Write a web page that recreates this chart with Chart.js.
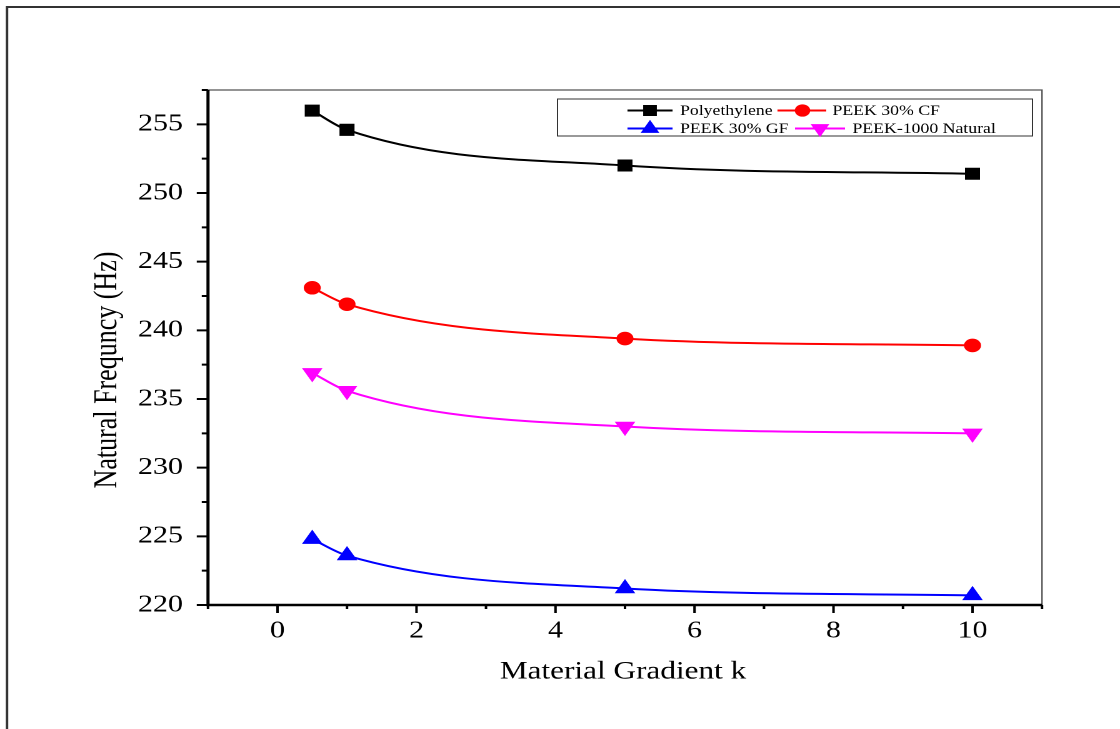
<!DOCTYPE html>
<html>
<head>
<meta charset="utf-8">
<script src="https://cdn.jsdelivr.net/npm/chart.js@4/dist/chart.umd.min.js"></script>
<style>
  html, body { margin: 0; padding: 0; background: #fff; overflow: hidden; }
  /* the original figure is stretched sideways, so draw narrow and widen with css */
  #wrap { width: 896px; height: 729px; transform: scaleX(1.25); transform-origin: 0 0; }
</style>
</head>
<body>
<div id="wrap"><canvas id="chart" width="896" height="729"></canvas></div>
<script>
const gradientK = [0.5, 1, 5, 10];
const polyethylene = [256.0, 254.6, 252.0, 251.4];
const peekCF = [243.1, 241.9, 239.4, 238.9];
const peekGF = [224.8, 223.6, 221.2, 220.7];
const peekNatural = [236.9, 235.6, 233.0, 232.5];

const seriesNames = ['Polyethylene', 'PEEK 30% CF', 'PEEK 30% GF', 'PEEK-1000 Natural'];
const xTickLabels = [0, 2, 4, 6, 8, 10];
const yTickLabels = [220, 225, 230, 235, 240, 245, 250, 255];

const xTitle = 'Material Gradient k';
const yTitle = 'Natural Frequncy (Hz)';
const serif = "'Liberation Serif', 'Times New Roman', serif";

function pts(ys) {
  return gradientK.map((x, i) => ({ x: x, y: ys[i] }));
}

function makeSet(label, ys, color, style, radius, rotation) {
  return {
    label: label,
    data: pts(ys),
    borderColor: color,
    backgroundColor: color,
    borderWidth: 2,
    cubicInterpolationMode: 'monotone',
    pointStyle: style,
    pointRadius: radius,
    pointHoverRadius: radius,
    pointRotation: rotation || 0,
    pointBorderWidth: 1,
    pointBorderColor: color,
    pointBackgroundColor: color
  };
}

const datasets = [
  makeSet(seriesNames[0], polyethylene, '#000000', 'rect', 7.8),
  makeSet(seriesNames[1], peekCF, '#ff0000', 'circle', 6.3),
  makeSet(seriesNames[2], peekGF, '#0000ff', 'triangle', 8.5),
  makeSet(seriesNames[3], peekNatural, '#ff00ff', 'triangle', 8.5, 180)
];

// legend placement (inside the plot, top right)
const legendBox = { left: 446, top: 99, right: 826, bottom: 136 };
const legendItems = [
  { ds: 0, x0: 502, x1: 538, mx: 520, tx: 544, y: 110.5 },
  { ds: 1, x0: 622, x1: 661, mx: 642, tx: 666, y: 110.5 },
  { ds: 2, x0: 502, x1: 538, mx: 520, tx: 544, y: 128.5 },
  { ds: 3, x0: 636, x1: 676, mx: 656, tx: 682, y: 128.5 }
];

const framePlugin = {
  id: 'frame',
  beforeDraw(chart) {
    const ctx = chart.ctx;
    ctx.save();
    ctx.fillStyle = '#fff';
    ctx.fillRect(0, 0, chart.width, chart.height);
    // outer figure frame (left and top edges show)
    ctx.strokeStyle = '#333';
    ctx.lineWidth = 2;
    ctx.beginPath();
    ctx.moveTo(5.6, chart.height);
    ctx.lineTo(5.6, 7);
    ctx.lineTo(chart.width, 7);
    ctx.stroke();
    ctx.restore();
  },
  afterDraw(chart) {
    const ctx = chart.ctx;
    const a = chart.chartArea;
    const xs = chart.scales.x, ys = chart.scales.y;
    ctx.save();
    // thin top and right border
    ctx.strokeStyle = '#555';
    ctx.lineWidth = 1.2;
    ctx.beginPath();
    ctx.moveTo(a.left, a.top);
    ctx.lineTo(a.right, a.top);
    ctx.lineTo(a.right, a.bottom);
    ctx.stroke();
    // thick left and bottom axes
    ctx.strokeStyle = '#000';
    ctx.lineWidth = 2.5;
    ctx.beginPath();
    ctx.moveTo(a.left, a.top);
    ctx.lineTo(a.left, a.bottom);
    ctx.lineTo(a.right, a.bottom);
    ctx.stroke();
    // ticks, longer at labelled values
    ctx.lineWidth = 2;
    ctx.beginPath();
    xs.ticks.forEach(t => {
      const px = xs.getPixelForValue(t.value);
      const len = xTickLabels.includes(t.value) ? 8 : 4;
      ctx.moveTo(px, a.bottom);
      ctx.lineTo(px, a.bottom + len);
    });
    ys.ticks.forEach(t => {
      const py = ys.getPixelForValue(t.value);
      const len = yTickLabels.includes(t.value) ? 9 : 5;
      ctx.moveTo(a.left, py);
      ctx.lineTo(a.left - len, py);
    });
    ctx.stroke();

    // axis titles
    ctx.fillStyle = '#000';
    ctx.textAlign = 'center';
    ctx.textBaseline = 'middle';
    ctx.font = '25px ' + serif;
    ctx.fillText(xTitle, 498.4, 672);
    ctx.save();
    ctx.translate(86, 370);
    ctx.rotate(-Math.PI / 2);
    ctx.font = '26px ' + serif;
    ctx.fillText(yTitle, 0, 0);
    ctx.restore();

    // legend
    ctx.strokeStyle = '#333';
    ctx.lineWidth = 1;
    ctx.strokeRect(legendBox.left, legendBox.top, legendBox.right - legendBox.left, legendBox.bottom - legendBox.top);
    ctx.font = '14.2px ' + serif;
    ctx.textAlign = 'left';
    legendItems.forEach(it => {
      const ds = chart.data.datasets[it.ds];
      ctx.strokeStyle = ds.borderColor;
      ctx.lineWidth = 2;
      ctx.beginPath();
      ctx.moveTo(it.x0, it.y);
      ctx.lineTo(it.x1, it.y);
      ctx.stroke();
      ctx.fillStyle = ds.backgroundColor;
      ctx.strokeStyle = ds.borderColor;
      ctx.lineWidth = 1;
      Chart.helpers.drawPoint(ctx, {
        pointStyle: ds.pointStyle,
        rotation: ds.pointRotation,
        radius: ds.pointRadius * 0.9,
        borderWidth: 1
      }, it.mx, it.y);
      ctx.fillStyle = '#000';
      ctx.fillText(ds.label, it.tx, it.y + 1);
    });
    ctx.restore();
  }
};

new Chart(document.getElementById('chart'), {
  type: 'line',
  data: { datasets: datasets },
  options: {
    responsive: false,
    animation: false,
    devicePixelRatio: 2,
    layout: { padding: { top: 90, right: 62.4, left: 0, bottom: 0 } },
    plugins: {
      legend: { display: false },
      tooltip: { enabled: false }
    },
    scales: {
      x: {
        type: 'linear',
        min: -1,
        max: 11,
        grid: { display: false, drawTicks: false, tickLength: 0 },
        border: { display: false },
        ticks: {
          stepSize: 1,
          padding: 12,
          color: '#000',
          font: { family: serif, size: 24 },
          maxRotation: 0,
          autoSkip: false,
          callback: v => xTickLabels.includes(v) ? String(v) : ''
        },
        afterFit(s) { s.height = 124; }
      },
      y: {
        type: 'linear',
        min: 220,
        max: 257.5,
        grid: { display: false, drawTicks: false, tickLength: 0 },
        border: { display: false },
        ticks: {
          stepSize: 2.5,
          padding: 20,
          color: '#000',
          font: { family: serif, size: 24 },
          autoSkip: false,
          callback: v => yTickLabels.includes(v) ? String(v) : ''
        },
        afterFit(s) { s.width = 166.4; }
      }
    }
  },
  plugins: [framePlugin]
});
</script>
</body>
</html>
